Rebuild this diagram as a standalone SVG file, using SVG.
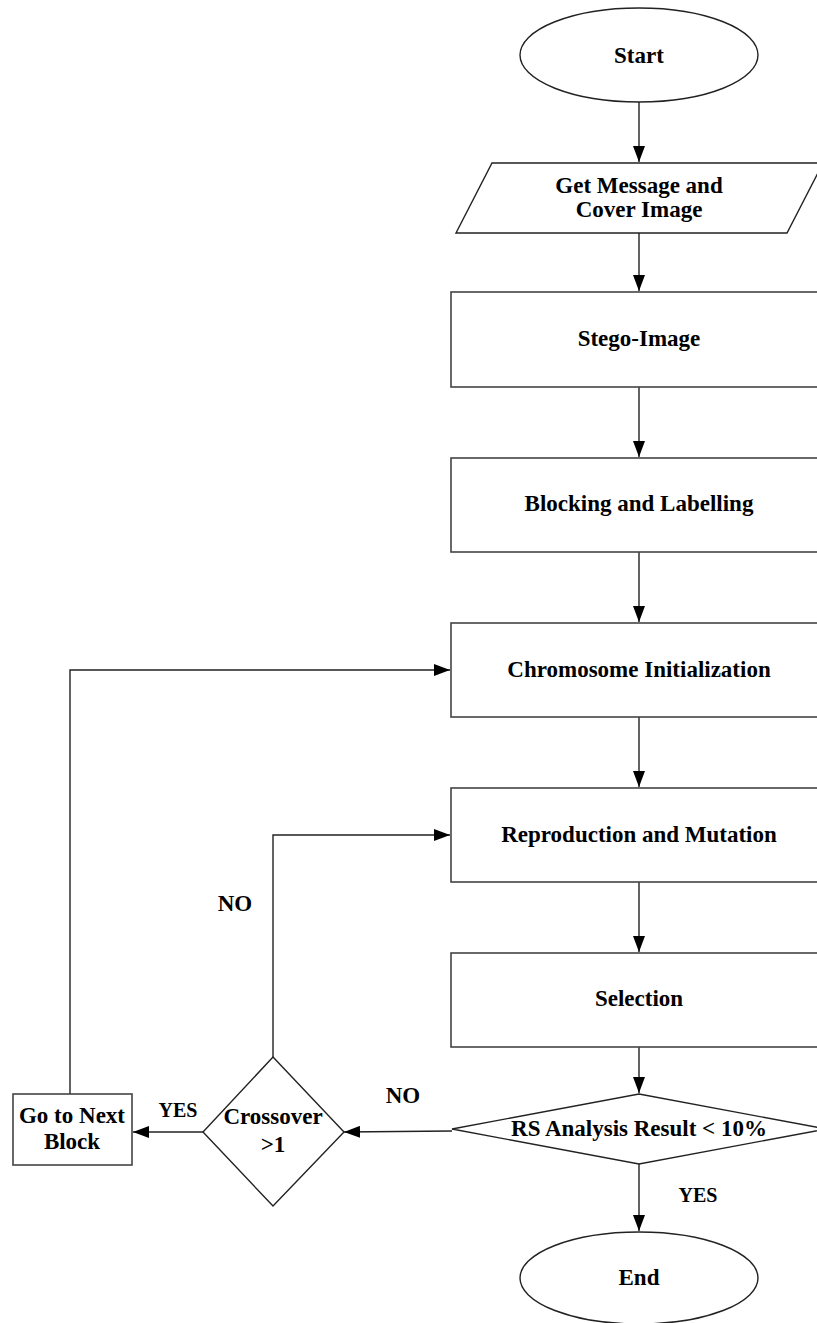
<svg xmlns="http://www.w3.org/2000/svg" width="817" height="1323" viewBox="0 0 817 1323">
<style>
.shape{fill:#fff;stroke:#222;stroke-width:1.4}
.box{fill:#fff;stroke:#444;stroke-width:1.6}
.t{font-family:"Liberation Serif","Times New Roman",serif;font-weight:bold;font-size:23px;fill:#000;text-anchor:middle}
.s{font-size:20px}
.c{fill:none;stroke:#222;stroke-width:1.4}
</style>
<defs>
<marker id="ah" markerUnits="userSpaceOnUse" markerWidth="16" markerHeight="12" refX="16" refY="6" orient="auto">
<path d="M0,0 L16,6 L0,12 Z" fill="#000"/>
</marker>
</defs>
<rect width="817" height="1323" fill="#fff"/>
<g id="connectors">
<line class="c" x1="639" y1="102" x2="639" y2="162" marker-end="url(#ah)"/>
<line class="c" x1="639" y1="233" x2="639" y2="291" marker-end="url(#ah)"/>
<line class="c" x1="639" y1="387" x2="639" y2="457" marker-end="url(#ah)"/>
<line class="c" x1="639" y1="552" x2="639" y2="622" marker-end="url(#ah)"/>
<line class="c" x1="639" y1="717" x2="639" y2="787" marker-end="url(#ah)"/>
<line class="c" x1="639" y1="882" x2="639" y2="952" marker-end="url(#ah)"/>
<line class="c" x1="639" y1="1047" x2="639" y2="1093" marker-end="url(#ah)"/>
<line class="c" x1="639" y1="1164" x2="639" y2="1231" marker-end="url(#ah)"/>
<line class="c" x1="452" y1="1131" x2="344" y2="1132" marker-end="url(#ah)"/>
<line class="c" x1="203" y1="1132" x2="133" y2="1132" marker-end="url(#ah)"/>
<polyline class="c" points="273,1057 273,835 450,835" marker-end="url(#ah)"/>
<polyline class="c" points="70,1094 70,670 450,670" marker-end="url(#ah)"/>
<text class="t" x="403" y="1103">NO</text>
<text class="t" x="235" y="911">NO</text>
<text class="t s" x="178" y="1117">YES</text>
<text class="t s" x="698" y="1202">YES</text>
</g>
<g id="start">
<ellipse class="shape" cx="639" cy="55" rx="119" ry="47"/>
<text class="t" x="639" y="63">Start</text>
</g>
<g id="input">
<polygon class="shape" points="492,163 823,163 787,233 456,233"/>
<text class="t" x="639" y="193">Get Message and</text>
<text class="t" x="639" y="217">Cover Image</text>
</g>
<g id="stego">
<rect class="box" x="451" y="292" width="380" height="95"/>
<text class="t" x="639" y="346">Stego-Image</text>
</g>
<g id="blocking">
<rect class="box" x="451" y="458" width="380" height="94"/>
<text class="t" x="639" y="511">Blocking and Labelling</text>
</g>
<g id="chromosome">
<rect class="box" x="451" y="623" width="380" height="94"/>
<text class="t" x="639" y="677">Chromosome Initialization</text>
</g>
<g id="reproduction">
<rect class="box" x="451" y="788" width="380" height="94"/>
<text class="t" x="639" y="842">Reproduction and Mutation</text>
</g>
<g id="selection">
<rect class="box" x="451" y="953" width="380" height="94"/>
<text class="t" x="639" y="1006">Selection</text>
</g>
<g id="rs">
<polygon class="shape" points="639,1094 826,1129 639,1164 452,1129"/>
<text class="t" x="639" y="1136">RS Analysis Result &lt; 10%</text>
</g>
<g id="end">
<ellipse class="shape" cx="639" cy="1278" rx="119" ry="46"/>
<text class="t" x="639" y="1285">End</text>
</g>
<g id="crossover">
<polygon class="shape" points="273,1057 344,1132 273,1206 203,1132"/>
<text class="t" x="273" y="1124">Crossover</text>
<text class="t" x="273" y="1152">&gt;1</text>
</g>
<g id="next">
<rect class="box" x="13" y="1094" width="119" height="71"/>
<text class="t" x="72" y="1123">Go to Next</text>
<text class="t" x="72" y="1149">Block</text>
</g>
</svg>
